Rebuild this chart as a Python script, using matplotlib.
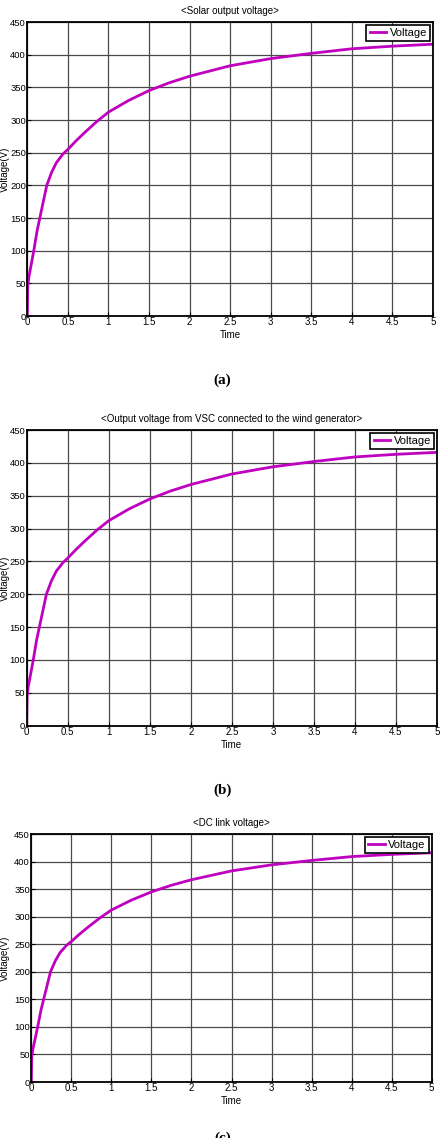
import numpy as np
import matplotlib.pyplot as plt

# values (all three panels show the same curve)
t = [0, 0.005, 0.02, 0.05, 0.08, 0.12, 0.18, 0.24, 0.3, 0.36, 0.44, 0.5,
     0.6, 0.7, 0.85, 1.0, 1.25, 1.5, 1.75, 2.0, 2.5, 3.0, 3.5, 4.0, 4.5, 5.0]
v = [0, 45, 60, 80, 100, 130, 165, 200, 220, 235, 248, 255,
     268, 280, 297, 312, 330, 345, 357, 367, 383, 394, 402, 409, 413, 416]
titles = ["<Solar output voltage>",
          "<Output voltage from VSC connected to the wind generator>",
          "<DC link voltage>"]
tags = ["(a)", "(b)", "(c)"]
xticks = [0, 0.5, 1, 1.5, 2, 2.5, 3, 3.5, 4, 4.5, 5]
xticklabels = ["0", "0.5", "1", "1.5", "2", "2.5", "3", "3.5", "4", "4.5", "5"]
yticks = [0, 50, 100, 150, 200, 250, 300, 350, 400, 450]

narrow = ["Liberation Sans Narrow", "Liberation Sans", "DejaVu Sans"]
fig = plt.figure(figsize=(4.45, 11.38), dpi=100)

# axes boxes in pixels (left, top, right, bottom) measured on the reference
px = [(27.3, 22, 433, 316),
      (26.7, 430, 437, 725.7),
      (31.3, 834, 431.7, 1082)]
tag_y = [0.666, 0.306, 0.0]

for i in range(3):
    l, tp, r, b = px[i]
    ax = fig.add_axes([l / 445, (1138 - b) / 1138, (r - l) / 445, (b - tp) / 1138])
    ax.plot(t, v, color="#bf00bf", linewidth=2, label="Voltage")
    ax.set_xlim(0, 5)
    ax.set_ylim(0, 450)
    ax.set_xticks(xticks)
    ax.set_xticklabels(xticklabels, family=narrow, fontsize=7)
    ax.set_yticks(yticks)
    ax.set_yticklabels([str(y) for y in yticks], family=narrow, fontsize=6.8)
    ax.tick_params(direction="in", length=3, pad=1, width=0.8)
    ax.grid(True, color="#4a4a4a", linewidth=0.9)
    for s in ax.spines.values():
        s.set_linewidth(1.3)
    ax.set_title(titles[i], family=narrow, fontsize=7, pad=6)
    ax.set_xlabel("Time", family=narrow, fontsize=7, labelpad=2)
    ax.set_ylabel("Voltage(V)", family="Liberation Sans", fontsize=7)
    ax.yaxis.label.set_va("center")
    ax.yaxis.set_label_coords(-(l - 5) / (r - l), 0.5)
    leg = ax.legend(loc="upper right", prop={"family": narrow, "size": 8},
                    fancybox=False, framealpha=1, edgecolor="black",
                    handlelength=1.5, handletextpad=0.3, borderpad=0.3,
                    borderaxespad=0.25)
    leg.get_frame().set_linewidth(1.2)
    fig.text(0.5, tag_y[i], tags[i], ha="center", va="center",
             family="Liberation Serif", fontweight="bold", fontsize=11)

fig.savefig("out.png", dpi=100)
